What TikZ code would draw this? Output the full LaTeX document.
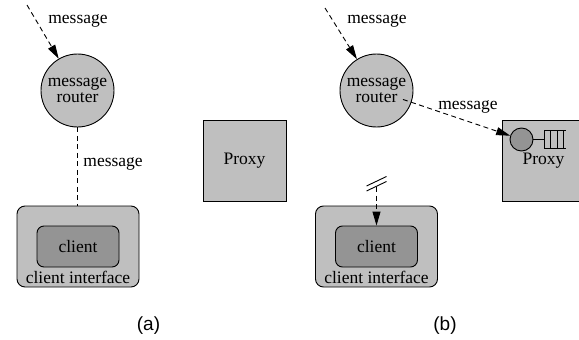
\documentclass[tikz,border=0pt]{standalone}
\usepackage{fontspec}
\setmainfont{Liberation Serif}
\newfontfamily\capfont{Liberation Sans}
\usetikzlibrary{arrows.meta}
\begin{document}
\begin{tikzpicture}[x=1pt,y=-1pt,
  every path/.style={line width=0.9pt},
  lbl/.style={font=\fontsize{17.5}{15}\selectfont, inner sep=0pt},
  captionlbl/.style={font=\capfont\fontsize{19}{20}\selectfont, inner sep=0pt},
  router/.style={circle, draw, fill=black!25, minimum size=73pt, inner sep=0pt,
    align=center, font=\fontsize{17.5}{16}\selectfont},
  proxybox/.style={rectangle, draw, fill=black!25, minimum width=83pt,
    minimum height=81pt, inner sep=0pt, font=\fontsize{17.5}{15}\selectfont},
  iface/.style={rectangle, rounded corners=8pt, draw, fill=black!25,
    minimum width=122pt, minimum height=81pt, inner sep=0pt},
  clientbox/.style={rectangle, rounded corners=7pt, draw, fill=black!42,
    minimum width=82pt, minimum height=41pt, inner sep=0pt,
    font=\fontsize{17.5}{15}\selectfont},
  port/.style={circle, draw, fill=black!42, minimum size=23pt, inner sep=0pt},
  dline/.style={dash pattern=on 5pt off 3.5pt},
  msg/.style={dline, -{Triangle[length=14pt,width=8pt]}},
]
\useasboundingbox (0,0) rectangle (579,340);

% ---------- (a) ----------
\node[router] (rA) at (77.5,90.5) {message\\router};
\coordinate (inA) at (27,5);
\draw[msg] (inA) -- (rA);
\node[lbl] (mA1) at (78,21) {message};

\node[iface] (ciA) at (78,246.5) {};
\node[clientbox] (clA) at (78,246.5) {client};
\node[lbl] (ciAt) at (78,277.5) {client interface};
\draw[dline] (rA.south) -- (rA.south |- ciA.north);
\node[lbl, anchor=west] (mA2) at (83,163.5) {message};

\node[proxybox] (pA) at (244.5,161) {Proxy};

\node[captionlbl] (capA) at (148.5,326) {(a)};

% ---------- (b) ----------
\node[router] (rB) at (376.5,90.5) {message\\router};
\coordinate (inB) at (325,8);
\draw[msg] (inB) -- (rB);
\node[lbl] (mB1) at (377,21) {message};

\node[proxybox] (pB) at (543.5,160.5) {Proxy};
\node[port] (q) at (521.5,139.5) {};
\coordinate (qs) at (544,139.5);
\draw (q.east) -- (qs);
\draw (565.5,130.5) -- (544,130.5) -- (544,148.5) -- (565.5,148.5);
\draw (550.5,130.5) -- (550.5,148.5);
\draw (557,130.5) -- (557,148.5);
\draw (563.5,130.5) -- (563.5,148.5);

\draw[msg, shorten <=-9pt] (rB) -- (q);
\node[lbl] (mB2) at (468,106.5) {message};

\node[iface] (ciB) at (376.5,246.5) {};
\node[clientbox] (clB) at (376.5,246.5) {client};
\node[lbl] (ciBt) at (376.5,277.5) {client interface};

\coordinate (brk) at (376.5,187);
\draw[msg] (brk) -- (clB);
\draw (366.5,186) -- (386.5,176.5);
\draw (366.5,191) -- (386.5,181.5);

\node[captionlbl] (capB) at (445,326) {(b)};
\end{tikzpicture}
\end{document}
